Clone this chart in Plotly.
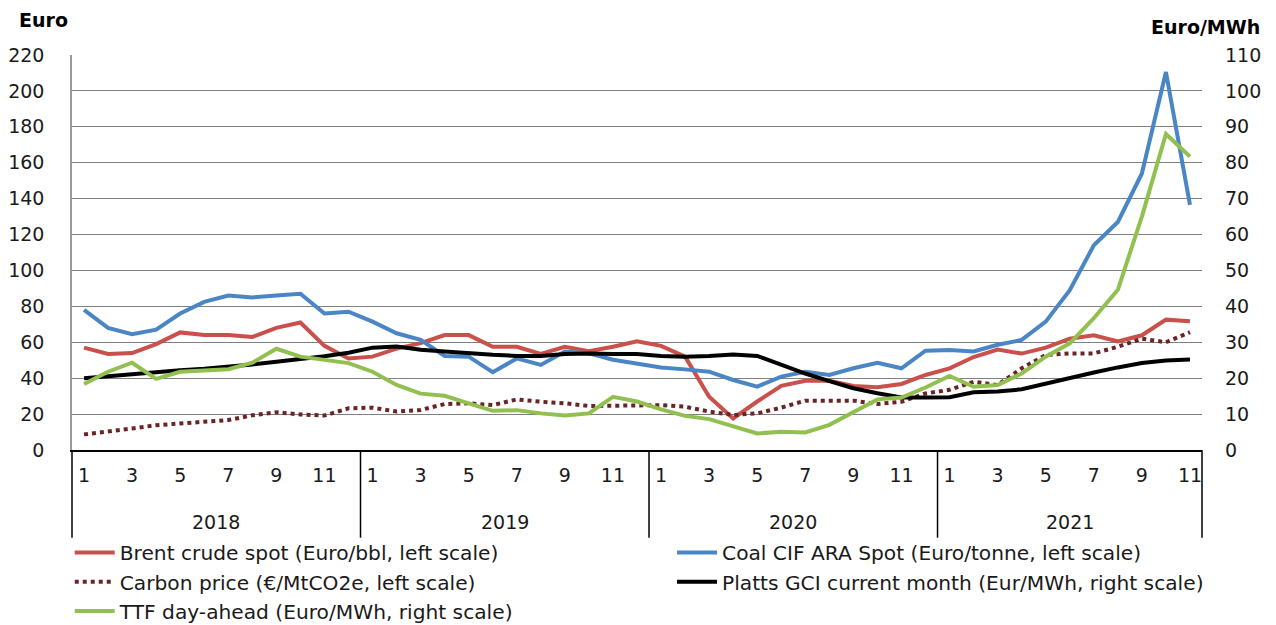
import plotly.graph_objects as go

# ---------------- data ----------------
years = [2018, 2019, 2020, 2021]
month_numbers = list(range(1, 13))
periods = [f"{y}-{m:02d}" for y in years for m in month_numbers][:47]  # Jan 2018 .. Nov 2021

brent = [57, 53.5, 54, 59, 65.5, 64, 64, 63, 68, 71, 58, 51,
         52, 56.5, 59.5, 64, 64, 57.5, 57.5, 53.5, 57.5, 55, 57.5, 60.5,
         58, 52, 29.7, 17.6, 27, 35.7, 38.6, 38.6, 35.7, 34.9, 36.8, 41.8,
         45.5, 51.8, 55.9, 53.7, 57, 62, 63.9, 60.5, 63.9, 72.6, 71.7]

coal = [78, 68, 64.5, 67, 76, 82.5, 86, 85, 86, 87, 76, 77,
        71.5, 65, 61.3, 52.4, 52, 43.3, 51, 47.4, 54.9, 53.9, 50.3, 48.3,
        46, 44.9, 43.6, 39, 35.3, 40.9, 43.6, 41.8, 45.5, 48.6, 45.5, 55.3,
        55.7, 54.9, 58.6, 61.3, 71.5, 89, 114, 127, 154, 210.5, 136.5]

carbon = [8.7, 10.2, 12, 13.8, 14.8, 15.3, 16.7, 19.3, 21, 19.8, 19.2, 23.2,
          23.6, 21.4, 22.3, 25.6, 26, 25, 28.2, 26.9, 26, 24.5, 24.5, 25,
          25, 24.1, 21.4, 19.5, 20.4, 23.6, 27.5, 27.5, 27.5, 25.6, 26.9, 31.5,
          33.5, 38, 36.2, 45.5, 52.9, 53.8, 53.8, 57.5, 62, 60, 65.6]

platts = [20, 20.6, 21.2, 21.7, 22.2, 22.6, 23.1, 23.8, 24.6, 25.3, 26.1, 27.1,
          28.5, 28.8, 27.9, 27.4, 26.9, 26.5, 26.2, 26.2, 26.7, 26.9, 26.7, 26.7,
          26.2, 26, 26.2, 26.6, 26.2, 23.7, 21.3, 19.2, 17.2, 15.8, 14.6, 14.6,
          14.7, 16.1, 16.3, 16.9, 18.5, 20.2, 21.6, 23, 24.2, 24.9, 25.2]

ttf = [18.4, 21.8, 24.3, 19.8, 21.8, 22.1, 22.5, 24.3, 28.2, 26, 25.1, 24.2,
       21.8, 18.1, 15.7, 15.1, 13, 10.9, 11.1, 10.2, 9.6, 10.2, 14.8, 13.5,
       11.3, 9.5, 8.6, 6.5, 4.6, 5.1, 4.9, 7, 10.7, 14.1, 14.6, 17.4,
       20.6, 17.6, 18.1, 21.3, 26, 29.7, 36.7, 44.6, 65, 88, 81.7]

odd_months = [1, 3, 5, 7, 9, 11]
tick_vals = [p for p in periods if int(p[-2:]) in odd_months]
tick_text = [str(int(p[-2:])) for p in tick_vals]

FONT = "DejaVu Sans"
TXT = "#1a1a1a"
LW = 4

fig = go.Figure()
fig.add_trace(go.Scatter(x=periods, y=brent, mode="lines", name="Brent crude spot (Euro/bbl, left scale)",
                         line=dict(color="#C9504B", width=LW), legend="legend"))
fig.add_trace(go.Scatter(x=periods, y=coal, mode="lines", name="Coal CIF ARA Spot (Euro/tonne, left scale)",
                         line=dict(color="#4A86C5", width=LW), legend="legend2"))
fig.add_trace(go.Scatter(x=periods, y=carbon, mode="lines", name="Carbon price (€/MtCO2e, left scale)",
                         line=dict(color="#6B2426", width=LW, dash="dot"), legend="legend"))
fig.add_trace(go.Scatter(x=periods, y=platts, mode="lines", name="Platts GCI current month (Eur/MWh, right scale)",
                         line=dict(color="#000000", width=LW), yaxis="y2", legend="legend2"))
fig.add_trace(go.Scatter(x=periods, y=ttf, mode="lines", name="TTF day-ahead (Euro/MWh, right scale)",
                         line=dict(color="#92C050", width=LW), yaxis="y2", legend="legend"))

n = len(periods)
# year group separators (box below the axis)
for k in range(len(years) + 1):
    xf = min(12 * k, n) / n
    fig.add_shape(type="line", xref="x domain", yref="paper", x0=xf, x1=xf, y0=0, y1=-0.222,
                  line=dict(color="#000000", width=1.5))
# year labels
for k, yv in enumerate(years):
    start = 12 * k
    end = min(12 * (k + 1), n)
    fig.add_annotation(xref="x domain", yref="paper", x=(start + end) / 2 / n, y=-0.182,
                       text=str(yv), showarrow=False, xanchor="center", yanchor="middle",
                       font=dict(size=19, color=TXT, family=FONT))

fig.add_annotation(xref="paper", yref="paper", x=-0.049, y=1.089, text="<b>Euro</b>", showarrow=False,
                   xanchor="left", yanchor="middle", font=dict(size=19, color="#000", family=FONT))
fig.add_annotation(xref="paper", yref="paper", x=1.053, y=1.071, text="<b>Euro/MWh</b>", showarrow=False,
                   xanchor="right", yanchor="middle", font=dict(size=19, color="#000", family=FONT))

legend_common = dict(orientation="v", xanchor="left", y=-0.21, yanchor="top",
                     font=dict(size=20.2, color=TXT, family=FONT), tracegroupgap=0,
                     itemwidth=40, bgcolor="rgba(0,0,0,0)", traceorder="normal")

fig.update_layout(
    width=1268, height=617,
    margin=dict(l=64, r=74, t=47, b=175, autoexpand=False),
    paper_bgcolor="white", plot_bgcolor="white",
    font=dict(family=FONT, color=TXT),
    showlegend=True,
    legend=dict(x=-0.002, **legend_common),
    legend2=dict(x=0.531, **legend_common),
    xaxis=dict(type="category", categoryorder="array", categoryarray=periods,
               range=[-0.5, n - 0.5], tickmode="array", tickvals=tick_vals, ticktext=tick_text,
               showgrid=False, showline=True, linecolor="#000000", linewidth=2,
               ticks="", ticklabelstandoff=7, tickfont=dict(size=19, color=TXT, family=FONT),
               zeroline=False),
    yaxis=dict(range=[0, 220], dtick=20, showgrid=True, gridcolor="#808080", gridwidth=1,
               showline=True, linecolor="#9a9a9a", linewidth=1.5, zeroline=False,
               ticks="", ticklabelstandoff=22, tickfont=dict(size=19, color=TXT, family=FONT)),
    yaxis2=dict(range=[0, 110], dtick=10, overlaying="y", side="right", showgrid=False,
                showline=False, zeroline=False, ticks="", ticklabelstandoff=22,
                tickfont=dict(size=19, color=TXT, family=FONT)),
)

fig.write_html("out.html")
